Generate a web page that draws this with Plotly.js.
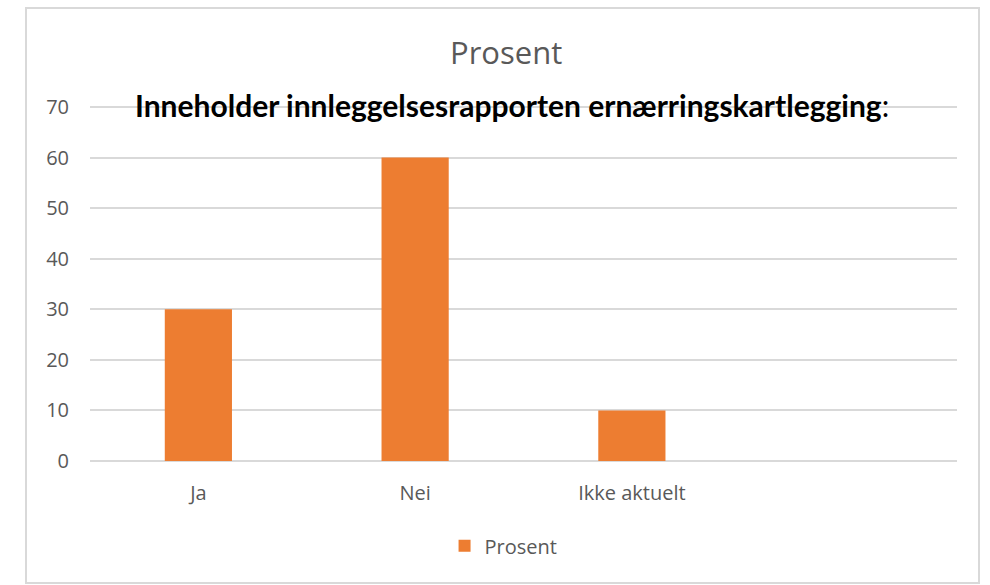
<!DOCTYPE html>
<html>
<head>
<meta charset="utf-8">
<script src="https://cdn.plot.ly/plotly-3.0.1.min.js"></script>
<style>
  html, body { margin: 0; padding: 0; background: #ffffff; }
  #wrap { position: relative; width: 990px; height: 585px; }
  #chart { width: 990px; height: 585px; }
  #frame { position: absolute; left: 25px; top: 7px; width: 951px; height: 573px;
           border: 2px solid #d9d9d9; pointer-events: none; }
</style>
</head>
<body>
<div id="wrap">
  <div id="chart"></div>
  <div id="frame"></div>
</div>
<script>
const categories = ["Ja", "Nei", "Ikke aktuelt"];
const values = [30, 60, 10];
const seriesName = "Prosent";
const chartTitle = "Prosent";
const subtitle = "<b>Inneholder innleggelsesrapporten ernærringskartlegging</b>:";
const yTicks = [0, 10, 20, 30, 40, 50, 60, 70];

const grey = "#595959";
const gridColor = "#d9d9d9";

const trace = {
  type: "bar",
  x: categories,
  y: values,
  name: seriesName,
  marker: { color: "#ed7d31" },
  showlegend: true,
  hoverinfo: "x+y"
};

const layout = {
  width: 990,
  height: 585,
  paper_bgcolor: "#ffffff",
  plot_bgcolor: "#ffffff",
  margin: { l: 90, r: 33, t: 102, b: 124 },
  bargap: 0.69,
  font: { family: "Open Sans, sans-serif", color: grey, size: 20 },
  title: {
    text: chartTitle,
    font: { family: "Open Sans, sans-serif", size: 31, color: grey },
    x: 0.48, xanchor: "center",
    xref: "paper",
    y: 0.909, yanchor: "middle", yref: "container"
  },
  xaxis: {
    type: "category",
    range: [-0.5, 3.5],
    showgrid: false,
    zeroline: false,
    showline: false,
    ticks: "",
    ticklabelstandoff: 18,
    tickfont: { family: "Open Sans, sans-serif", size: 20, color: grey },
    fixedrange: true
  },
  yaxis: {
    range: [0, 71],
    tickvals: yTicks,
    showgrid: true,
    gridcolor: gridColor,
    gridwidth: 2,
    zeroline: true,
    zerolinecolor: gridColor,
    zerolinewidth: 2,
    showline: false,
    ticks: "",
    ticklabelstandoff: 20,
    tickfont: { family: "Open Sans, sans-serif", size: 20, color: grey },
    fixedrange: true
  },
  legend: {
    orientation: "h",
    x: 0.477, xanchor: "center", xref: "paper",
    y: 0.067, yanchor: "middle", yref: "container",
    font: { family: "Open Sans, sans-serif", size: 20, color: grey },
    itemwidth: 30
  },
  annotations: [{
    text: subtitle,
    xref: "paper", yref: "paper",
    x: 0.487, xanchor: "center",
    y: 0.992, yanchor: "middle",
    showarrow: false,
    font: { family: "Lato, sans-serif", size: 30, color: "#000000" }
  }]
};

Plotly.newPlot("chart", [trace], layout, { displayModeBar: false, staticPlot: true });
</script>
</body>
</html>
